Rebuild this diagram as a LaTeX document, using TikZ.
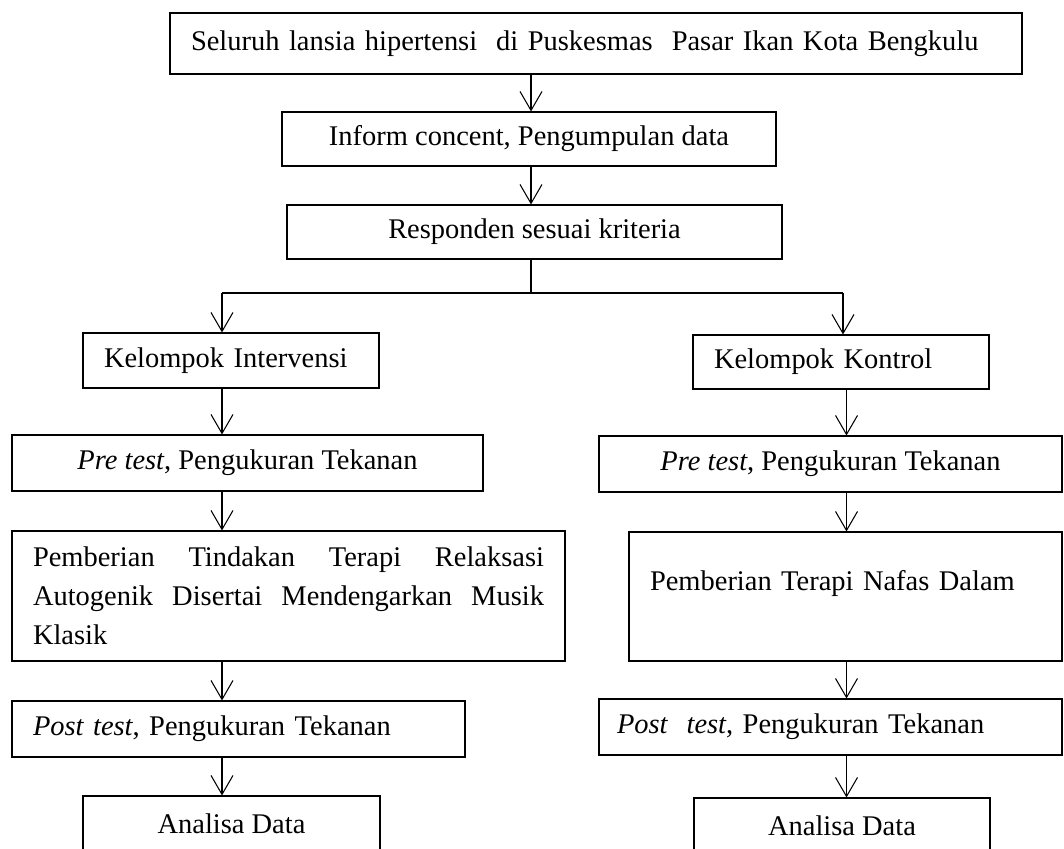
\documentclass[tikz,border=0pt]{standalone}
\usepackage{fontspec}
\setmainfont{Liberation Serif}
\usetikzlibrary{positioning}
\usetikzlibrary{arrows.meta}

\begin{document}
\begin{tikzpicture}[>={Straight Barb[length=0.38cm,width=0.44cm]}, %open v heads
line width=0.6pt,
every node/.style={font=\fontsize{16.2}{22.2}\selectfont},
boxc/.style ={rectangle, draw, align=center, inner sep=0pt, minimum height=1.1cm},
boxl/.style ={rectangle, draw, align=left, inner xsep=0.42cm, inner ysep=0pt, minimum height=1.1cm}
]
\useasboundingbox (0,0) rectangle (21.28,-16.96);
\clip (0,0) rectangle (21.28,-16.96);
%top part
\draw (11.92,-0.87) node[boxl, text width=16.2cm, minimum height=1.22cm] (sel) {Seluruh lansia hipertensi~ di Puskesmas~ Pasar Ikan Kota Bengkulu};
\draw (10.58,-2.78) node[boxc, minimum width=9.88cm, minimum height=1.08cm] (inform) {Inform concent, Pengumpulan data};
\draw (10.69,-4.64) node[boxc, minimum width=9.9cm, minimum height=1.08cm] (resp) {Responden sesuai kriteria};
%split in two groups
\coordinate (split) at (10.62,-5.86);
\coordinate (splitL) at (4.44,-5.86);
\coordinate (splitR) at (16.86,-5.86);
\coordinate (colR) at (16.93,-5.86);
\draw[->] (sel.south -| split) -- (inform.north -| split);
\draw[->] (inform.south -| split) -- (resp.north -| split);
\draw (resp.south -| split) -- (split);
\draw[thick] (splitL) -- (splitR);
%left column
\draw (4.62,-7.21) node[boxl, text width=5.08cm] (kint) {Kelompok Intervensi};
\draw (4.95,-9.26) node[boxc, minimum width=9.42cm, minimum height=1.12cm] (preL) {\textit{Pre test}, Pengukuran Tekanan};
\draw (5.77,-11.92) node[boxl, text width=10.22cm, align=justify, minimum height=2.6cm] (berL) {Pemberian Tindakan Terapi Relaksasi\linebreak Autogenik Disertai Mendengarkan Musik\linebreak Klasik};
\draw (4.77,-14.58) node[boxl, text width=8.22cm, minimum height=1.12cm] (postL) {\textit{Post test}, Pengukuran Tekanan};
\draw (4.63,-16.48) node[boxc, minimum width=5.94cm, minimum height=1.12cm] (anaL) {Analisa Data};
\draw[->] (splitL) -- (kint.north -| splitL);
\draw[->] (kint.south -| splitL) -- (preL.north -| splitL);
\draw[->] (preL.south -| splitL) -- (berL.north -| splitL);
\draw[->] (berL.south -| splitL) -- (postL.north -| splitL);
\draw[->] (postL.south -| splitL) -- (anaL.north -| splitL);
%right column
\draw (16.82,-7.24) node[boxl, text width=5.08cm, minimum height=1.08cm] (kkon) {Kelompok Kontrol};
\draw (16.61,-9.28) node[boxc, minimum width=9.26cm, minimum height=1.12cm] (preR) {\textit{Pre test}, Pengukuran Tekanan};
\draw (16.91,-11.93) node[boxl, text width=7.82cm, text depth=0.65cm, minimum height=2.58cm] (berR) {Pemberian Terapi Nafas Dalam};
\draw (16.61,-14.54) node[boxl, inner xsep=0.36cm, text width=8.54cm, minimum height=1.12cm] (postR) {\textit{Post~ test}, Pengukuran Tekanan};
\draw (16.84,-16.52) node[boxc, minimum width=5.92cm, minimum height=1.12cm] (anaR) {Analisa Data};
\draw[->] (splitR) -- (kkon.north -| splitR);
\draw[->] (kkon.south -| colR) -- (preR.north -| colR);
\draw[->] (preR.south -| colR) -- (berR.north -| colR);
\draw[->] (berR.south -| colR) -- (postR.north -| colR);
\draw[->] (postR.south -| colR) -- (anaR.north -| colR);
\end{tikzpicture}
\end{document}
